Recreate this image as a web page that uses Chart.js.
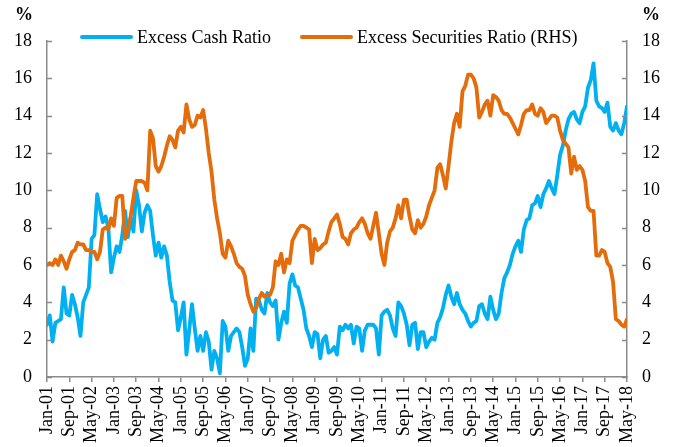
<!DOCTYPE html>
<html>
<head>
<meta charset="utf-8">
<script src="https://cdn.jsdelivr.net/npm/chart.js@4.4.0/dist/chart.umd.min.js"></script>
<style>
html,body{margin:0;padding:0;background:#fff;}
#wrap{position:relative;width:673px;height:447px;}
</style>
</head>
<body>
<div id="wrap"><canvas id="c" width="673" height="447"></canvas></div>
<script>
// ---- data (monthly, Jan-01 .. May-18) ----
const tickLabels = ["Jan-01","Sep-01","May-02","Jan-03","Sep-03","May-04","Jan-05","Sep-05","May-06",
  "Jan-07","Sep-07","May-08","Jan-09","Sep-09","May-10","Jan-11","Sep-11","May-12","Jan-13","Sep-13",
  "May-14","Jan-15","Sep-15","May-16","Jan-17","Sep-17","May-18"];

const seriesNames = ["Excess Cash Ratio", "Excess Securities Ratio (RHS)"];
const unitLabel = "%";

const excessCash = [
  2.8,3.3,1.9,2.9,3.0,3.1,4.8,3.4,3.3,4.4,3.9,3.2,
  2.2,4.0,4.4,4.8,7.4,7.6,9.8,9.0,8.3,8.6,8.0,5.6,
  6.4,7.0,6.7,7.6,8.9,7.5,8.5,7.8,10.0,9.2,7.8,8.8,
  9.2,8.9,7.6,6.5,7.2,6.4,7.0,6.5,5.1,4.1,4.0,2.5,
  3.2,4.0,1.2,2.5,3.9,2.6,1.4,2.2,1.4,2.4,1.9,0.4,
  1.4,1.0,0.2,3.0,2.7,1.4,2.2,2.4,2.6,2.4,1.6,0.6,
  1.0,2.6,1.4,4.2,4.1,3.6,3.4,4.5,4.0,3.8,4.1,2.0,
  2.9,3.5,2.9,5.0,5.5,4.9,4.8,4.2,3.6,2.6,2.2,1.6,
  2.4,2.3,1.0,2.0,2.2,1.3,1.4,1.6,1.2,2.7,2.5,2.8,
  2.6,2.8,1.8,2.7,2.6,1.4,2.5,2.8,2.8,2.8,2.6,1.2,
  3.3,3.5,3.6,3.3,2.6,2.2,4.0,3.8,3.4,2.8,1.7,2.8,
  2.9,1.5,2.4,2.4,1.6,1.9,2.1,2.0,2.9,3.2,3.7,4.4,
  4.9,4.3,3.9,4.5,3.9,3.6,3.4,3.0,2.7,2.9,3.0,3.8,
  3.9,3.4,3.1,4.3,3.6,3.1,3.4,4.5,5.3,5.6,6.0,6.6,
  7.0,7.3,6.7,7.9,8.4,8.5,9.2,9.3,9.7,9.1,9.8,10.1,
  10.5,10.1,9.8,10.8,11.9,12.4,13.2,13.8,14.1,14.2,13.8,13.6,
  14.2,14.5,15.5,15.9,16.8,14.8,14.5,14.4,14.2,14.7,13.4,13.2,
  13.6,13.2,13.0,13.6,14.5
];

const excessSecurities = [
  6.0,6.1,6.0,6.3,6.0,6.5,6.2,5.8,6.3,6.7,6.8,7.2,
  7.1,7.1,6.8,6.8,6.7,6.7,6.3,6.7,7.9,8.0,7.9,8.5,
  8.1,9.6,9.7,9.7,7.4,7.9,8.6,9.6,10.5,10.5,10.5,10.4,
  10.0,13.2,12.8,11.3,11.0,11.3,11.8,12.4,12.9,12.7,12.3,13.2,
  13.4,13.1,14.6,13.8,13.4,13.5,14.0,13.9,14.3,13.3,12.0,11.0,
  9.5,8.5,7.7,6.6,6.4,7.3,7.0,6.6,6.1,5.9,5.8,5.4,
  4.4,3.9,3.5,3.7,4.2,4.5,4.3,4.4,4.4,4.8,6.2,6.0,
  6.6,5.6,6.3,6.1,7.3,7.6,7.9,8.1,8.1,8.0,7.9,6.1,
  7.4,6.8,6.9,7.1,7.2,7.8,8.3,8.5,8.7,8.2,7.5,7.4,
  7.1,7.7,7.9,8.0,8.3,8.5,8.2,7.7,7.4,8.1,8.8,7.7,
  6.6,6.0,7.2,7.8,8.0,8.5,9.2,8.5,9.5,9.5,8.6,7.9,
  7.7,8.4,8.0,8.2,8.6,9.2,9.6,10.0,11.2,11.4,10.8,10.1,
  11.3,12.6,13.6,14.1,13.4,15.3,15.6,16.2,16.2,16.0,15.5,13.9,
  14.2,14.6,14.8,14.0,15.1,15.0,14.8,14.3,14.1,14.1,13.9,13.6,
  13.3,13.0,13.5,14.1,14.3,14.3,14.6,14.1,14.0,14.4,14.2,13.6,
  13.8,14.0,14.0,13.9,13.2,12.7,12.5,12.3,10.9,11.8,11.1,11.3,
  11.1,10.5,9.1,8.9,8.9,6.5,6.5,6.8,6.7,6.1,5.9,5.1,
  3.1,3.0,2.8,2.7,3.1
];

const yMin = 0, yMax = 18, yStep = 2;
const monthsPerTick = 8;

// ---- styling ----
const FONT = "'Liberation Serif','Times New Roman',serif";
const AXIS = '#8a8a8a';
const BLUE = '#00B0F0';
const ORANGE = '#E46C0A';

const overlay = {
  id: 'overlay',
  afterDraw(chart) {
    const c = chart.ctx, a = chart.chartArea;
    c.save();
    // inner tick marks on both value axes
    c.strokeStyle = AXIS; c.lineWidth = 1.5;
    ['y', 'y2'].forEach(id => {
      const s = chart.scales[id];
      const x0 = id === 'y' ? a.left : a.right;
      const dir = id === 'y' ? 1 : -1;
      s.ticks.forEach(t => {
        const py = Math.round(s.getPixelForValue(t.value)) + 0.5;
        c.beginPath(); c.moveTo(x0, py); c.lineTo(x0 + dir * 5, py); c.stroke();
      });
    });
    // unit labels
    c.fillStyle = '#000';
    c.font = 'bold 18px ' + FONT;
    c.textAlign = 'center'; c.textBaseline = 'middle';
    c.fillText(unitLabel, 24, 15);
    c.fillText(unitLabel, 651, 15);
    // legend
    c.font = '18px ' + FONT;
    c.textAlign = 'left';
    const items = [
      {x: 80, ds: chart.data.datasets[0]},
      {x: 300, ds: chart.data.datasets[1]}
    ];
    items.forEach(it => {
      c.strokeStyle = it.ds.borderColor; c.lineWidth = 4; c.lineCap = 'round';
      c.beginPath(); c.moveTo(it.x + 2, 37); c.lineTo(it.x + 51, 37); c.stroke();
      c.fillText(it.ds.label, it.x + 57, 38);
    });
    c.restore();
  }
};

const toPts = arr => arr.map((v, i) => ({x: i, y: v}));

new Chart(document.getElementById('c'), {
  type: 'line',
  data: {
    datasets: [
      {label: seriesNames[0], data: toPts(excessCash), borderColor: BLUE, backgroundColor: BLUE,
       borderWidth: 3.8, borderJoinStyle: 'round', borderCapStyle: 'round',
       pointRadius: 0, tension: 0, yAxisID: 'y', order: 1},
      {label: seriesNames[1], data: toPts(excessSecurities), borderColor: ORANGE, backgroundColor: ORANGE,
       borderWidth: 3.8, borderJoinStyle: 'round', borderCapStyle: 'round',
       pointRadius: 0, tension: 0, yAxisID: 'y2', order: 0}
    ]
  },
  options: {
    responsive: false,
    animation: false,
    devicePixelRatio: 1,
    layout: {padding: {top: 41, left: 0, right: 0, bottom: 0}},
    plugins: {legend: {display: false}, tooltip: {enabled: false}},
    scales: {
      x: {
        type: 'linear', min: 0, max: excessCash.length - 1,
        ticks: {
          stepSize: monthsPerTick, autoSkip: false, minRotation: 90, maxRotation: 90, padding: 4,
          font: {family: FONT, size: 18}, color: '#000',
          callback: v => tickLabels[Math.round(v / monthsPerTick)]
        },
        grid: {drawOnChartArea: false, drawTicks: true, tickLength: 5, color: AXIS, lineWidth: 1.5},
        border: {display: true, color: AXIS, width: 1.5},
        afterFit: s => { s.height = 70; }
      },
      y: {
        position: 'left', min: yMin, max: yMax,
        ticks: {stepSize: yStep, padding: 15, font: {family: FONT, size: 18}, color: '#000'},
        grid: {drawOnChartArea: false, drawTicks: false},
        border: {display: true, color: AXIS, width: 1.5},
        afterFit: s => { s.width = 47; }
      },
      y2: {
        position: 'right', min: yMin, max: yMax,
        ticks: {stepSize: yStep, padding: 15, font: {family: FONT, size: 18}, color: '#000'},
        grid: {drawOnChartArea: false, drawTicks: false},
        border: {display: true, color: AXIS, width: 1.5},
        afterFit: s => { s.width = 46; }
      }
    }
  },
  plugins: [overlay]
});
</script>
</body>
</html>
